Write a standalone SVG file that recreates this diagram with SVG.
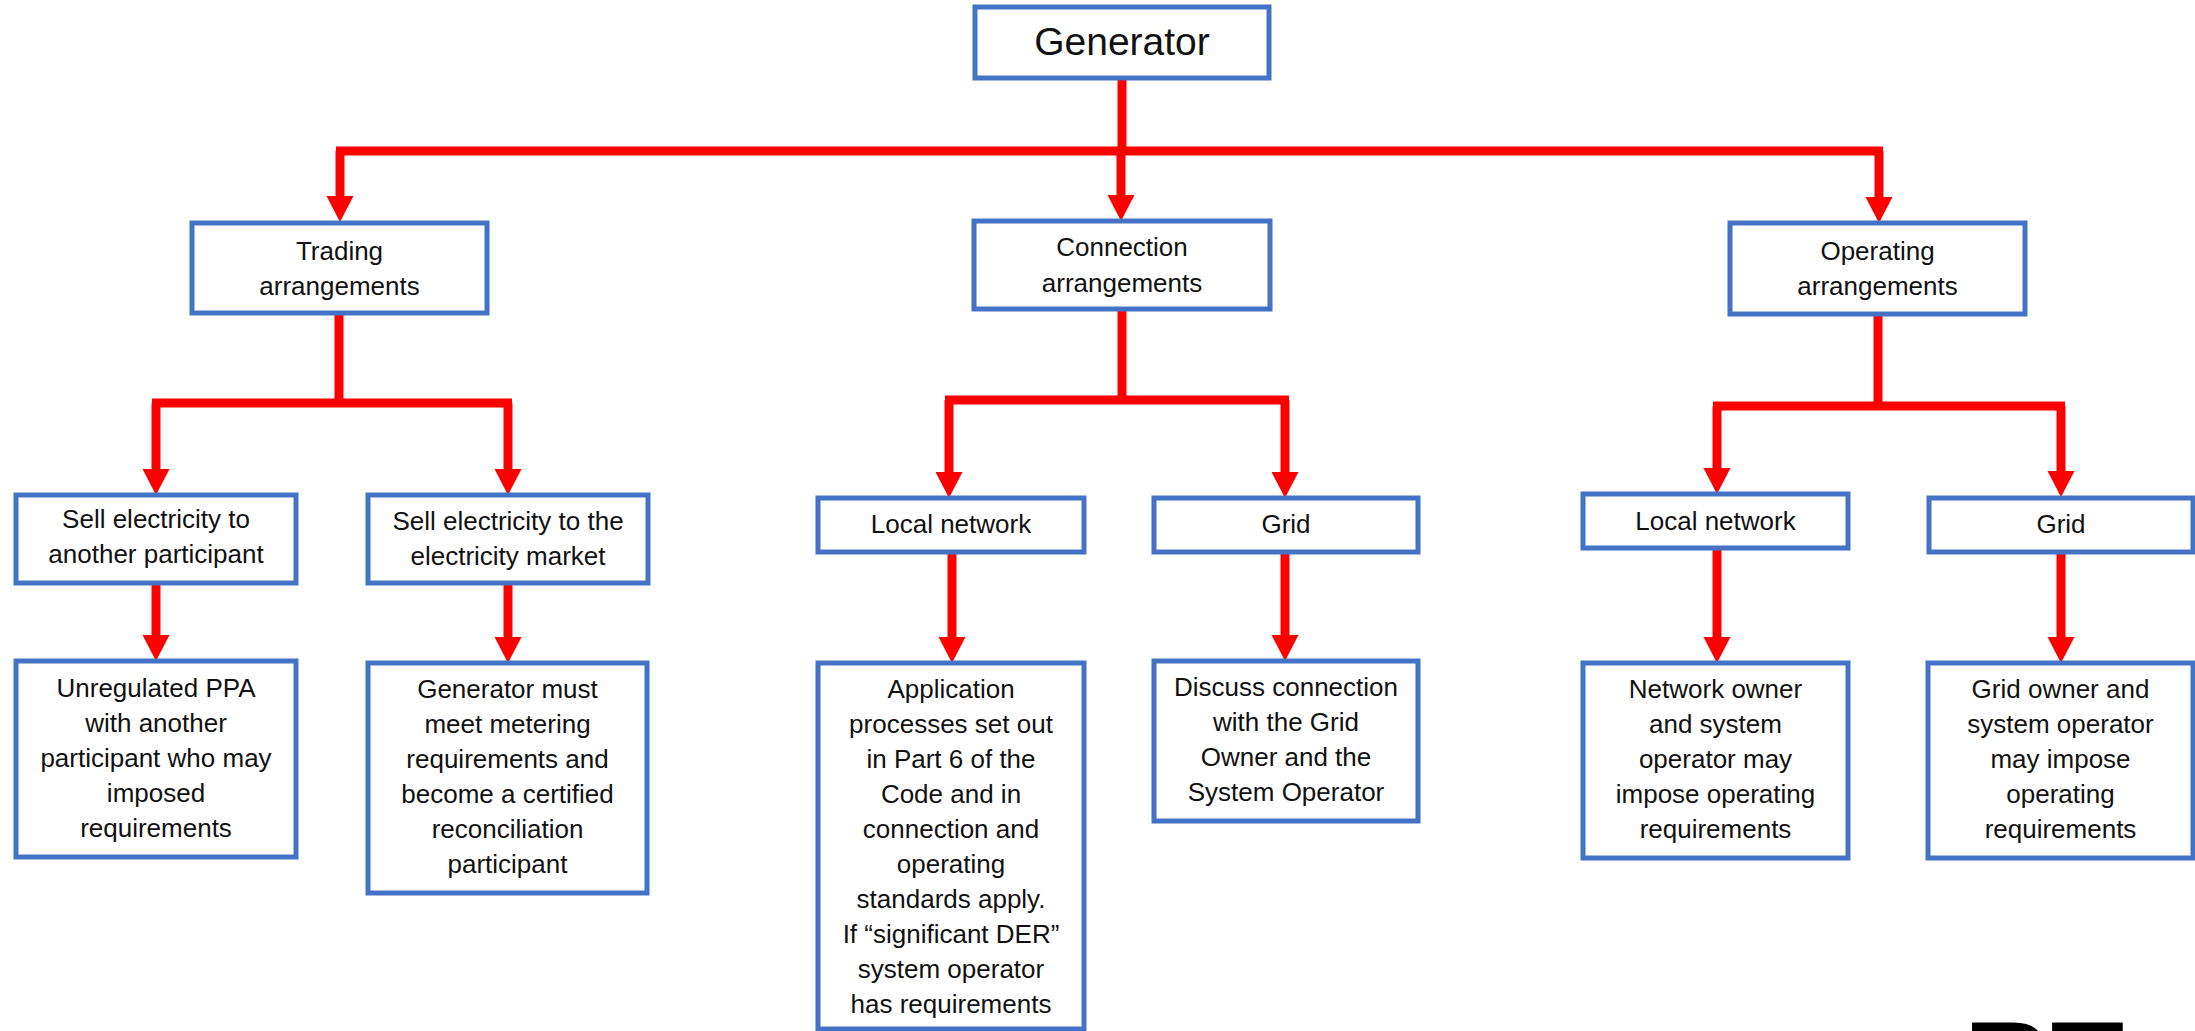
<svg xmlns="http://www.w3.org/2000/svg" width="2195" height="1031" viewBox="0 0 2195 1031">
<style>
.box{fill:#fff;stroke:#4472C4;stroke-width:5}
.t{font-family:"Liberation Sans",Arial,sans-serif;font-size:26px;fill:#111;text-anchor:middle}
.big{font-size:39px}
.ln{fill:none;stroke:#FF0000;stroke-width:9}
.thin{stroke-width:8}
.ar{fill:none;stroke:#FF0000;stroke-width:9;marker-end:url(#ah)}
</style>
<defs>
<marker id="ah" markerUnits="userSpaceOnUse" markerWidth="27" markerHeight="28" viewBox="0 -14 27 28" refX="1" refY="0" orient="auto">
<path d="M0,-13.5 L26,0 L0,13.5 Z" fill="#FF0000"/>
</marker>
</defs>
<rect width="2195" height="1031" fill="#fff"/>

<g id="connectors">
<path class="ln" d="M1122,79 V151"/>
<path class="ln" d="M336,151 H1883"/>
<path class="ar thin" d="M340,151 V197"/>
<path class="ar thin" d="M1121,151 V196"/>
<path class="ar thin" d="M1879,151 V198"/>

<path class="ln" d="M339,313 V403"/>
<path class="ln" d="M152,403 H512"/>
<path class="ar" d="M156,403 V470"/>
<path class="ar" d="M508,403 V470"/>
<path class="ar" d="M156,583 V636"/>
<path class="ar" d="M508,583 V638"/>

<path class="ln" d="M1122,309 V400"/>
<path class="ln" d="M945,400 H1289"/>
<path class="ar" d="M949,400 V473"/>
<path class="ar" d="M1285,400 V473"/>
<path class="ar" d="M952,552 V638"/>
<path class="ar" d="M1285,552 V636"/>

<path class="ln" d="M1878,314 V406"/>
<path class="ln" d="M1713,406 H2065"/>
<path class="ar" d="M1717,406 V469"/>
<path class="ar" d="M2061,406 V472"/>
<path class="ar" d="M1717,548 V638"/>
<path class="ar" d="M2061,552 V638"/>
</g>

<g id="generator">
<rect class="box" x="975" y="7" width="294" height="71"/>
<text class="t big" x="1122" y="55">Generator</text>
</g>

<g id="trading">
<rect class="box" x="192" y="223" width="295" height="90"/>
<text class="t" x="339.5" y="260">Trading<tspan x="339.5" dy="35">arrangements</tspan></text>
</g>

<g id="connection">
<rect class="box" x="974" y="221" width="296" height="88"/>
<text class="t" x="1122" y="256">Connection<tspan x="1122" dy="36">arrangements</tspan></text>
</g>

<g id="operating">
<rect class="box" x="1730" y="223" width="295" height="91"/>
<text class="t" x="1877.5" y="260">Operating<tspan x="1877.5" dy="35">arrangements</tspan></text>
</g>

<g id="sell-participant">
<rect class="box" x="16" y="495" width="280" height="88"/>
<text class="t" x="156" y="528">Sell electricity to<tspan x="156" dy="35">another participant</tspan></text>
</g>

<g id="sell-market">
<rect class="box" x="368" y="495" width="280" height="88"/>
<text class="t" x="508" y="530">Sell electricity to the<tspan x="508" dy="35">electricity market</tspan></text>
</g>

<g id="unregulated-ppa">
<rect class="box" x="16" y="661" width="280" height="196"/>
<text class="t" x="156" y="697">Unregulated PPA<tspan x="156" dy="35">with another</tspan><tspan x="156" dy="35">participant who may</tspan><tspan x="156" dy="35">imposed</tspan><tspan x="156" dy="35">requirements</tspan></text>
</g>

<g id="metering">
<rect class="box" x="368" y="663" width="279" height="230"/>
<text class="t" x="507.5" y="698">Generator must<tspan x="507.5" dy="35">meet metering</tspan><tspan x="507.5" dy="35">requirements and</tspan><tspan x="507.5" dy="35">become a certified</tspan><tspan x="507.5" dy="35">reconciliation</tspan><tspan x="507.5" dy="35">participant</tspan></text>
</g>

<g id="conn-local">
<rect class="box" x="818" y="498" width="266" height="54"/>
<text class="t" x="951" y="533">Local network</text>
</g>

<g id="conn-grid">
<rect class="box" x="1154" y="498" width="264" height="54"/>
<text class="t" x="1286" y="533">Grid</text>
</g>

<g id="application">
<rect class="box" x="818" y="663" width="266" height="366"/>
<text class="t" x="951" y="698">Application<tspan x="951" dy="35">processes set out</tspan><tspan x="951" dy="35">in Part 6 of the</tspan><tspan x="951" dy="35">Code and in</tspan><tspan x="951" dy="35">connection and</tspan><tspan x="951" dy="35">operating</tspan><tspan x="951" dy="35">standards apply.</tspan><tspan x="951" dy="35">If “significant DER”</tspan><tspan x="951" dy="35">system operator</tspan><tspan x="951" dy="35">has requirements</tspan></text>
</g>

<g id="discuss">
<rect class="box" x="1154" y="661" width="264" height="160"/>
<text class="t" x="1286" y="696">Discuss connection<tspan x="1286" dy="35">with the Grid</tspan><tspan x="1286" dy="35">Owner and the</tspan><tspan x="1286" dy="35">System Operator</tspan></text>
</g>

<g id="op-local">
<rect class="box" x="1583" y="494" width="265" height="54"/>
<text class="t" x="1715.5" y="530">Local network</text>
</g>

<g id="op-grid">
<rect class="box" x="1929" y="498" width="264" height="54"/>
<text class="t" x="2061" y="533">Grid</text>
</g>

<g id="network-owner">
<rect class="box" x="1583" y="663" width="265" height="195"/>
<text class="t" x="1715.5" y="698">Network owner<tspan x="1715.5" dy="35">and system</tspan><tspan x="1715.5" dy="35">operator may</tspan><tspan x="1715.5" dy="35">impose operating</tspan><tspan x="1715.5" dy="35">requirements</tspan></text>
</g>

<g id="grid-owner">
<rect class="box" x="1928" y="663" width="265" height="195"/>
<text class="t" x="2060.5" y="698">Grid owner and<tspan x="2060.5" dy="35">system operator</tspan><tspan x="2060.5" dy="35">may impose</tspan><tspan x="2060.5" dy="35">operating</tspan><tspan x="2060.5" dy="35">requirements</tspan></text>
</g>

<text x="1964" y="1106" font-family="Liberation Sans, Arial, sans-serif" font-weight="bold" font-size="120" fill="#000">RT</text>
</svg>
